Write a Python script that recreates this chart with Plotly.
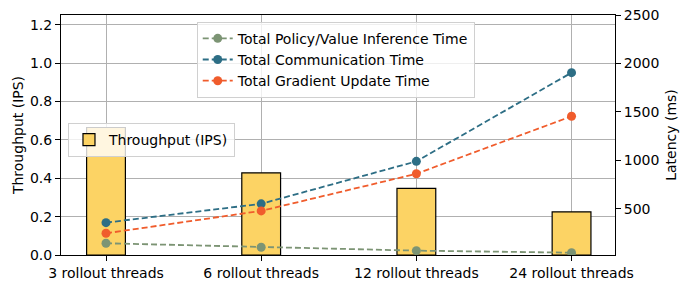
import plotly.graph_objects as go

categories = ["3 rollout threads", "6 rollout threads", "12 rollout threads", "24 rollout threads"]
throughput = [0.664, 0.428, 0.347, 0.225]
inference_time = [145, 104, 69, 48]
communication_time = [358, 552, 990, 1905]
gradient_time = [248, 479, 862, 1455]

FONT = "DejaVu Sans"
FS = 14
fig = go.Figure()

fig.add_trace(go.Bar(
    x=categories, y=throughput, width=0.25, name="Throughput (IPS)",
    marker=dict(color="#FCD364", line=dict(color="black", width=1.2)),
    legend="legend2", yaxis="y",
))

line_specs = [
    ("Total Policy/Value Inference Time", inference_time, "#7C9474"),
    ("Total Communication Time", communication_time, "#2D6E85"),
    ("Total Gradient Update Time", gradient_time, "#F05C2C"),
]
for name, vals, col in line_specs:
    fig.add_trace(go.Scatter(
        x=categories, y=vals, name=name, mode="lines+markers", yaxis="y2",
        line=dict(color=col, width=1.8, dash="6px,3px"),
        marker=dict(color=col, size=9), legend="legend",
    ))

fig.update_layout(
    width=690, height=289,
    margin=dict(l=61, r=75, t=15, b=34),
    paper_bgcolor="white", plot_bgcolor="white",
    font=dict(family=FONT, size=FS, color="black"),
    showlegend=True,
    xaxis=dict(
        type="category", range=[-0.29, 3.28], automargin=False,
        showgrid=True, gridcolor="#b0b0b0", gridwidth=1,
        showline=True, linecolor="black", linewidth=1, mirror=True,
        ticks="outside", ticklen=5, tickcolor="black",
        tickfont=dict(size=FS),
    ),
    yaxis=dict(
        range=[0, 1.25], dtick=0.2, tickformat=".1f", automargin=False,
        showgrid=True, gridcolor="#b0b0b0", gridwidth=1,
        showline=True, linecolor="black", linewidth=1, mirror=True,
        ticks="outside", ticklen=5, tickcolor="black",
        title=dict(text="Throughput (IPS)", font=dict(size=FS), standoff=3),
        zeroline=False,
    ),
    yaxis2=dict(
        overlaying="y", side="right", range=[24, 2500], automargin=False,
        tickvals=[500, 1000, 1500, 2000, 2500],
        showgrid=False, zeroline=False,
        showline=True, linecolor="black", linewidth=1,
        ticks="outside", ticklen=5, tickcolor="black",
        title=dict(text="Latency (ms)", font=dict(size=FS), standoff=7),
    ),
    legend=dict(
        x=0.245, y=0.972, xanchor="left", yanchor="top",
        bgcolor="rgba(255,255,255,0.8)", bordercolor="#d0d0d0", borderwidth=1,
        font=dict(size=FS), tracegroupgap=0, itemwidth=30,
    ),
    legend2=dict(
        x=0.0126, y=0.55, xanchor="left", yanchor="top",
        bgcolor="rgba(255,255,255,0.8)", bordercolor="#d0d0d0", borderwidth=1,
        font=dict(size=FS), itemwidth=30,
    ),
)

fig.write_html("out.html", config={"displayModeBar": False},
               post_script="document.body.style.margin='0';")
